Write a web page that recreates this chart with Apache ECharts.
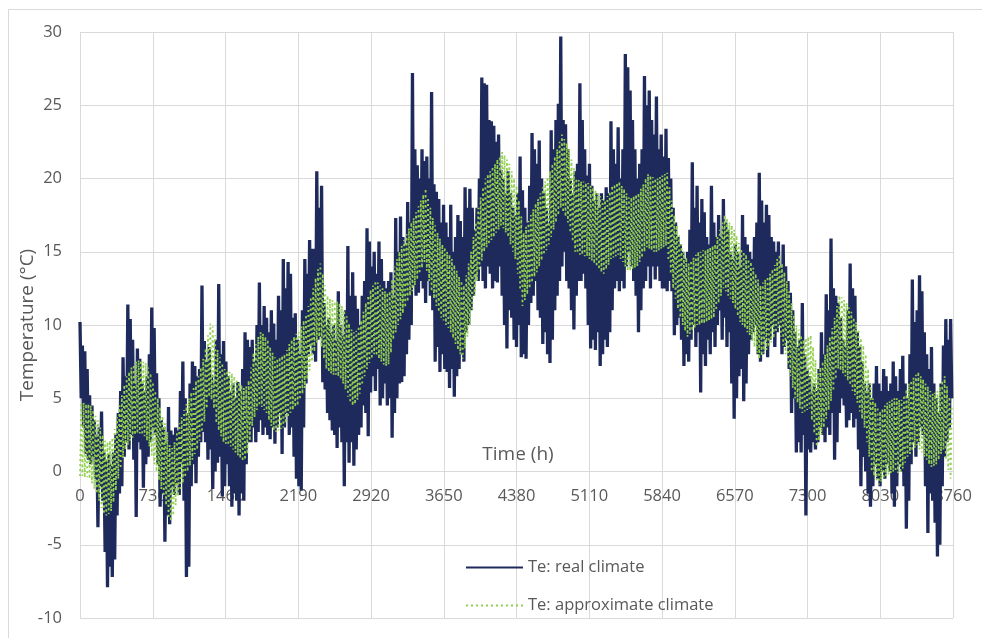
<!DOCTYPE html>
<html><head><meta charset="utf-8">
<script src="https://cdn.jsdelivr.net/npm/echarts@6/dist/echarts.min.js"></script>
<style>html,body{margin:0;padding:0;background:#fff}#c{width:982px;height:638px}</style>
</head><body><div id="c"></div>
<script>
// hours between consecutive samples
const STEP_H = 12;
const X_MIN = 0, X_MAX = 8760, X_INTERVAL = 730;
const Y_MIN = -10, Y_MAX = 30, Y_INTERVAL = 5;
const seriesNames = ['Te: real climate', 'Te: approximate climate'];
const xAxisName = 'Time (h)';
const yAxisName = 'Temperature (°C)';

// Te real climate, samples every 12 h
const realClimate = [
10.2,5.0, 8.6,3.0, 8.2,1.2, 7.0,0.8, 5.2,0.5, 4.5,1.0, 3.5,-0.5, 2.5,-3.8, 3.0,-1.0, 4.1,-2.0,
1.3,-5.5, 0.8,-7.9, 1.2,-6.5, 0.5,-7.2, 1.3,-6.0, 2.5,-3.0, 4.0,-1.5, 5.5,-1.0, 7.8,1.0, 6.5,2.0,
11.4,1.5, 10.4,2.5, 9.0,0.8, 6.0,-3.1, 8.4,2.0, 7.7,1.5, 6.0,-1.1, 5.5,0.5, 6.5,1.0, 8.0,2.0,
11.2,3.0, 9.8,2.5, 6.7,0.5, 5.0,-2.4, 3.5,-1.5, 3.0,-4.8, 2.0,-3.0, 4.4,-3.6, 2.8,-1.0, 2.5,-1.6,
3.0,-0.8, 2.8,-1.6, 5.5,0.5, 7.5,-2.0, 5.0,-7.2, 4.0,-6.5, 6.0,-1.0, 7.5,0.5, 7.2,-0.8, 6.5,1.0,
7.0,2.0, 12.7,2.7, 8.9,2.0, 7.5,0.8, 8.5,1.5, 6.6,-1.2, 6.0,0.0, 9.0,0.6, 12.8,1.0, 8.0,-1.7,
8.9,-1.0, 7.5,0.5, 6.5,-1.0, 5.5,-2.4, 6.0,-1.5, 5.0,-2.0, 6.1,-3.0, 5.5,-1.5, 7.0,-2.0, 9.5,0.5,
9.0,2.0, 8.5,2.0, 9.0,3.0, 7.5,2.0, 10.0,2.7, 12.9,3.5, 10.0,2.5, 11.3,3.0, 10.5,2.5, 9.5,2.2,
11.0,3.0, 10.1,1.9, 9.0,3.0, 12.0,4.0, 11.0,1.2, 14.5,3.0, 12.5,4.0, 14.3,2.5, 13.5,3.0, 10.5,1.0,
10.8,-0.5, 9.0,-1.0, 8.0,-1.3, 11.0,3.0, 14.5,6.0, 13.5,8.0, 15.8,8.6, 15.2,8.0, 15.2,7.5, 20.5,9.0,
18.0,9.2, 19.5,6.1, 11.5,5.6, 10.0,4.0, 10.5,3.5, 9.5,2.8, 10.0,2.5, 9.0,1.6, 12.3,3.0, 10.0,2.0,
9.3,-1.0, 11.0,2.0, 15.4,0.6, 12.0,2.0, 13.6,0.4, 12.0,1.5, 11.1,2.5, 10.0,3.0, 12.0,4.5, 13.0,4.0,
16.6,2.4, 15.7,5.4, 14.0,6.5, 15.0,5.5, 13.5,7.0, 15.7,4.5, 14.5,5.0, 13.0,6.0, 12.5,4.5, 13.0,5.0,
13.6,2.3, 12.0,4.0, 17.3,5.0, 15.0,6.0, 17.4,6.1, 16.0,6.5, 15.5,8.0, 18.4,9.0, 17.0,10.0, 27.2,12.7,
22.0,12.0, 20.9,12.2, 20.0,13.0, 22.0,12.5, 21.2,11.5, 21.5,13.0, 20.0,12.0, 25.9,11.0, 19.6,7.5, 19.1,8.5,
18.6,6.8, 17.0,8.0, 18.2,7.0, 17.0,6.8, 16.0,5.7, 18.2,7.0, 15.0,5.1, 16.0,6.5, 17.5,7.0, 17.1,8.0,
16.0,7.5, 19.4,9.5, 18.0,10.0, 19.3,11.0, 18.0,12.0, 16.5,13.5, 18.0,13.0, 20.0,14.0, 26.9,13.0, 26.5,12.5,
26.4,14.0, 24.0,13.5, 23.9,12.5, 23.6,13.0, 22.5,12.9, 23.0,14.0, 20.6,12.0, 20.0,10.0, 19.0,8.4, 20.5,11.0,
19.0,10.5, 18.0,9.0, 17.5,8.5, 19.0,10.0, 21.5,7.8, 19.2,8.0, 18.0,7.7, 17.0,10.0, 19.5,11.5, 23.1,12.0,
22.0,13.0, 21.0,11.0, 22.6,10.5, 20.0,8.7, 19.0,9.5, 18.0,8.0, 17.0,7.4, 23.3,9.0, 22.0,11.0, 24.0,12.0,
25.1,13.0, 29.7,14.0, 24.0,15.0, 23.7,13.0, 22.0,12.5, 20.0,11.0, 19.0,9.7, 20.5,12.0, 21.0,13.0, 26.5,13.0,
24.0,13.5, 22.0,12.5, 20.2,10.0, 21.0,8.4, 19.5,9.0, 18.5,8.3, 19.0,9.5, 18.0,7.2, 19.0,8.0, 18.5,9.0,
19.4,8.5, 19.0,9.5, 23.9,11.0, 22.0,12.5, 21.0,13.0, 23.5,12.3, 20.0,13.0, 22.0,12.5, 28.5,14.0, 27.6,15.0,
26.0,14.0, 24.0,13.0, 22.0,12.0, 20.0,9.5, 21.0,11.0, 22.0,12.5, 27.0,13.0, 25.0,14.0, 26.0,12.5, 24.0,14.0,
23.0,13.1, 25.6,14.0, 22.0,13.0, 23.0,12.5, 21.5,12.5, 23.4,12.3, 21.4,13.0, 20.0,12.3, 18.0,9.3, 17.0,10.0,
16.0,10.5, 15.5,9.0, 15.0,7.2, 14.5,8.0, 15.0,7.5, 16.5,9.0, 21.1,10.0, 18.0,8.5, 19.5,9.5, 17.0,5.4,
18.6,8.0, 17.7,7.2, 16.0,9.0, 15.5,8.0, 19.5,9.5, 17.0,8.5, 16.0,10.0, 17.5,11.0, 16.0,9.0, 18.6,10.5,
17.0,8.5, 16.5,9.5, 15.0,6.0, 14.5,3.6, 15.5,5.0, 15.0,6.5, 14.0,7.0, 17.5,4.8, 16.0,6.0, 15.5,8.0,
15.0,9.0, 14.5,9.5, 16.0,10.0, 17.0,8.0, 20.4,7.5, 18.5,8.0, 17.0,9.0, 18.2,7.8, 17.5,9.0, 16.0,10.0,
15.7,8.5, 15.0,9.5, 15.7,10.0, 14.0,8.0, 15.5,8.5, 14.0,9.0, 13.0,7.0, 12.2,4.0, 11.0,5.0, 9.5,1.3,
8.5,2.0, 9.0,1.3, 11.5,2.5, 8.0,-3.0, 7.0,1.5, 6.5,1.3, 5.5,2.0, 6.0,1.5, 5.5,2.0, 7.0,3.0,
9.5,2.5, 8.0,2.0, 12.1,3.0, 11.0,2.5, 15.9,4.0, 12.5,0.8, 12.0,2.0, 11.5,4.0, 10.5,5.0, 9.0,4.5,
8.5,3.0, 11.0,3.5, 14.2,4.0, 12.5,3.0, 12.0,3.6, 9.5,1.5, 8.5,-1.0, 7.5,1.0, 6.0,0.0, 5.5,-1.5,
6.0,-2.4, 5.0,-1.0, 6.0,0.5, 7.2,-0.5, 6.0,-1.0, 5.5,0.0, 7.0,-0.5, 6.5,0.5, 5.5,0.0, 6.0,-1.5,
7.5,-2.4, 6.5,-1.0, 5.5,0.5, 7.0,0.0, 7.9,-1.0, 6.0,-3.9, 5.0,-2.0, 8.0,0.5, 13.1,2.0, 10.2,1.0,
11.0,2.0, 13.4,3.0, 12.3,2.5, 9.5,-1.0, 8.0,-4.2, 7.0,-1.5, 8.5,-2.0, 6.0,-3.5, 5.0,-5.8, 4.0,-5.0,
6.0,-1.0, 8.6,1.0, 10.4,2.0, 9.0,3.0, 10.4,5.0
];

// Te approximate climate, samples every 12 h
const approxClimate = [
-0.3,4.7, -0.3,4.7, -0.4,4.6, -0.4,4.6, -0.5,4.5, -0.8,4.2, -1.2,3.8, -1.5,3.5, -2.0,3.0, -2.5,2.5,
-2.9,2.1, -3.0,2.0, -2.9,2.1, -2.7,2.3, -2.1,2.9, -1.3,3.7, -0.5,4.5, 0.2,5.2, 0.9,5.9, 1.5,6.5,
1.8,6.8, 2.1,7.1, 2.3,7.3, 2.5,7.5, 2.6,7.6, 2.6,7.6, 2.5,7.5, 2.4,7.4, 2.1,7.1, 1.7,6.7,
1.1,6.1, 0.5,5.5, 0.0,5.0, -0.6,4.4, -1.2,3.8, -1.7,3.3, -2.3,2.7, -3.2,1.8, -3.4,1.6, -3.0,2.0,
-2.3,2.7, -1.7,3.3, -1.3,3.7, -0.8,4.2, -0.4,4.6, 0.0,5.0, 0.4,5.4, 0.8,5.8, 1.2,6.2, 1.5,6.5,
2.1,7.1, 2.7,7.7, 3.4,8.4, 4.3,9.3, 5.1,10.1, 4.9,9.9, 4.3,9.3, 3.3,8.3, 2.8,7.8, 2.4,7.4,
2.0,7.0, 1.9,6.9, 1.8,6.8, 1.7,6.7, 1.5,6.5, 1.3,6.3, 1.1,6.1, 0.9,5.9, 0.7,5.7, 0.8,5.8,
1.2,6.2, 2.1,7.1, 3.1,8.1, 3.7,8.7, 4.2,9.2, 4.5,9.5, 4.4,9.4, 4.2,9.2, 4.0,9.0, 3.5,8.5,
3.1,8.1, 2.8,7.8, 2.7,7.7, 2.8,7.8, 2.9,7.9, 3.0,8.0, 3.3,8.3, 3.7,8.7, 4.0,9.0, 4.2,9.2,
4.4,9.4, 4.5,9.5, 4.9,9.9, 5.3,10.3, 5.7,10.7, 6.3,11.3, 6.9,11.9, 7.5,12.5, 8.2,13.2, 8.8,13.8,
9.2,14.2, 8.5,13.5, 7.7,12.7, 7.0,12.0, 6.8,11.8, 6.7,11.7, 6.6,11.6, 6.6,11.6, 6.5,11.5, 6.3,11.3,
6.0,11.0, 5.6,10.6, 5.1,10.1, 4.7,9.7, 4.5,9.5, 4.6,9.6, 4.9,9.9, 5.3,10.3, 5.9,10.9, 6.5,11.5,
7.0,12.0, 7.4,12.4, 7.7,12.7, 8.0,13.0, 7.9,12.9, 7.7,12.7, 7.5,12.5, 7.3,12.3, 7.2,12.2, 7.3,12.3,
8.1,13.1, 9.0,14.0, 9.5,14.5, 10.0,15.0, 10.4,15.4, 10.8,15.8, 11.2,16.2, 11.6,16.6, 12.0,17.0, 12.3,17.3,
12.7,17.7, 13.1,18.1, 13.5,18.5, 13.9,18.9, 14.3,19.3, 13.7,18.7, 13.0,18.0, 12.3,17.3, 11.8,16.8, 11.3,16.3,
10.9,15.9, 10.5,15.5, 10.3,15.3, 10.0,15.0, 9.8,14.8, 9.5,14.5, 9.1,14.1, 8.7,13.7, 8.3,13.3, 8.0,13.0,
7.7,12.7, 8.4,13.4, 9.2,14.2, 10.0,15.0, 11.0,16.0, 12.0,17.0, 13.0,18.0, 13.7,18.7, 14.4,19.4, 15.0,20.0,
15.3,20.3, 15.5,20.5, 15.8,20.8, 16.0,21.0, 16.3,21.3, 16.5,21.5, 16.8,21.8, 16.6,21.6, 16.3,21.3, 16.0,21.0,
15.5,20.5, 15.0,20.0, 14.5,19.5, 13.5,18.5, 12.4,17.4, 11.3,16.3, 11.7,16.7, 12.1,17.1, 12.5,17.5, 12.9,17.9,
13.3,18.3, 13.6,18.6, 14.0,19.0, 14.4,19.4, 14.8,19.8, 15.1,20.1, 15.5,20.5, 16.0,21.0, 16.5,21.5, 17.0,22.0,
17.5,22.5, 18.0,23.0, 17.7,22.7, 17.4,22.4, 17.0,22.0, 16.3,21.3, 15.7,20.7, 15.0,20.0, 14.9,19.9, 14.8,19.8,
14.8,19.8, 14.7,19.7, 14.7,19.7, 14.5,19.5, 14.4,19.4, 14.2,19.2, 14.0,19.0, 13.8,18.8, 13.6,18.6, 13.5,18.5,
13.8,18.8, 14.1,19.1, 14.5,19.5, 14.6,19.6, 14.7,19.7, 14.8,19.8, 14.5,19.5, 14.3,19.3, 14.0,19.0, 13.7,18.7,
13.7,18.7, 13.8,18.8, 13.9,18.9, 14.0,19.0, 14.3,19.3, 14.6,19.6, 15.0,20.0, 15.3,20.3, 15.2,20.2, 15.1,20.1,
15.0,20.0, 15.0,20.0, 15.1,20.1, 15.2,20.2, 15.3,20.3, 15.4,20.4, 14.4,19.4, 13.5,18.5, 12.5,17.5, 11.8,16.8,
11.1,16.1, 10.5,15.5, 10.0,15.0, 9.6,14.6, 9.2,14.2, 9.4,14.4, 9.6,14.6, 9.8,14.8, 10.0,15.0, 10.0,15.0,
10.1,15.1, 10.1,15.1, 10.2,15.2, 10.3,15.3, 10.4,15.4, 10.5,15.5, 11.0,16.0, 11.5,16.5, 12.0,17.0, 12.5,17.5,
12.3,17.3, 12.0,17.0, 11.8,16.8, 11.5,16.5, 11.1,16.1, 10.6,15.6, 10.2,15.2, 10.0,15.0, 9.8,14.8, 9.5,14.5,
9.3,14.3, 8.9,13.9, 8.5,13.5, 8.1,13.1, 7.7,12.7, 7.9,12.9, 8.1,13.1, 8.3,13.3, 8.5,13.5, 8.8,13.8,
9.1,14.1, 9.5,14.5, 9.8,14.8, 9.2,14.2, 8.6,13.6, 8.0,13.0, 7.3,12.3, 6.5,11.5, 5.7,10.7, 5.0,10.0,
4.7,9.7, 4.3,9.3, 4.0,9.0, 4.1,9.1, 4.2,9.2, 4.3,9.3, 3.5,8.5, 2.6,7.6, 1.7,6.7, 2.1,7.1,
2.5,7.5, 3.0,8.0, 3.6,8.6, 4.2,9.2, 4.8,9.8, 5.5,10.5, 6.3,11.3, 7.0,12.0, 6.9,11.9, 6.7,11.7,
6.5,11.5, 6.2,11.2, 5.9,10.9, 5.5,10.5, 5.2,10.2, 4.7,9.7, 4.1,9.1, 3.6,8.6, 3.0,8.0, 2.0,7.0,
1.0,6.0, 0.0,5.0, -0.3,4.7, -0.6,4.4, -0.9,4.1, -0.7,4.3, -0.5,4.5, -0.3,4.7, -0.2,4.8, -0.1,4.9,
0.0,5.0, 0.0,5.0, -0.1,4.9, -0.1,4.9, 0.2,5.2, 0.6,5.6, 1.0,6.0, 1.2,6.2, 1.4,6.4, 1.6,6.6,
1.8,6.8, 1.5,6.5, 1.3,6.3, 1.0,6.0, 0.8,5.8, 0.5,5.5, 0.3,5.3, 0.4,5.4, 0.5,5.5, 0.8,5.8,
1.2,6.2, 1.5,6.5, 0.8,5.8, 0.1,5.1, -0.5,4.5
];

const toPairs = arr => arr.map((v, i) => [i * STEP_H, v]);

const FONT = '"Open Sans", "DejaVu Sans", sans-serif';
const TXT = '#595959';
const GRIDC = '#d9d9d9';
const GRID = {left: 80, right: 29, top: 32, bottom: 20};
const PLOT_H = 638 - GRID.top - GRID.bottom;
// x axis is drawn where y = 0 (as in the original chart)
const X_AXIS_OFFSET = -PLOT_H * (0 - Y_MIN) / (Y_MAX - Y_MIN);

const chart = echarts.init(document.getElementById('c'), null, {renderer: 'canvas'});
chart.setOption({
  animation: false,
  backgroundColor: '#ffffff',
  grid: Object.assign({containLabel: false}, GRID),
  xAxis: {
    type: 'value', min: X_MIN, max: X_MAX, interval: X_INTERVAL,
    position: 'bottom', offset: X_AXIS_OFFSET,
    axisLine: {show: true, onZero: false, lineStyle: {color: GRIDC, width: 1}},
    axisTick: {show: false},
    axisLabel: {color: TXT, fontFamily: FONT, fontSize: 16.5, margin: 16,
                formatter: v => String(v)},
    splitLine: {show: true, lineStyle: {color: GRIDC, width: 1}}
  },
  yAxis: {
    type: 'value', min: Y_MIN, max: Y_MAX, interval: Y_INTERVAL,
    name: yAxisName, nameLocation: 'middle', nameGap: 43, nameMoveOverlap: false,
    nameTextStyle: {color: TXT, fontFamily: FONT, fontSize: 19},
    axisLine: {show: false},
    axisTick: {show: false},
    axisLabel: {color: TXT, fontFamily: FONT, fontSize: 16.5, margin: 18,
                formatter: v => String(v)},
    splitLine: {show: true, lineStyle: {color: GRIDC, width: 1}}
  },
  legend: {
    orient: 'vertical', left: 465, top: 559, itemWidth: 57, itemHeight: 14, itemGap: 21,
    padding: 0,
    itemStyle: {opacity: 0},
    textStyle: {color: TXT, fontFamily: FONT, fontSize: 16.5},
    data: seriesNames
  },
  graphic: [
    {type: 'rect', silent: true, z: -1, shape: {x: 8.5, y: 9.5, width: 1100, height: 800},
     style: {fill: 'none', stroke: GRIDC, lineWidth: 1}},
    {type: 'text', silent: true, x: 518, y: 455,
     style: {text: xAxisName, fill: TXT, font: '19px ' + FONT, textAlign: 'center', textVerticalAlign: 'middle'}}
  ],
  series: [
    {name: seriesNames[0], type: 'line', data: toPairs(realClimate), symbol: 'none', showSymbol: false,
     lineStyle: {color: '#1f2a5c', width: 3.3}, itemStyle: {color: '#1f2a5c'}, z: 2},
    {name: seriesNames[1], type: 'line', data: toPairs(approxClimate), symbol: 'none', showSymbol: false,
     lineStyle: {color: '#92d050', width: 1.75, type: [2, 3]}, itemStyle: {color: '#92d050'}, z: 3}
  ]
});
</script>
</body></html>
